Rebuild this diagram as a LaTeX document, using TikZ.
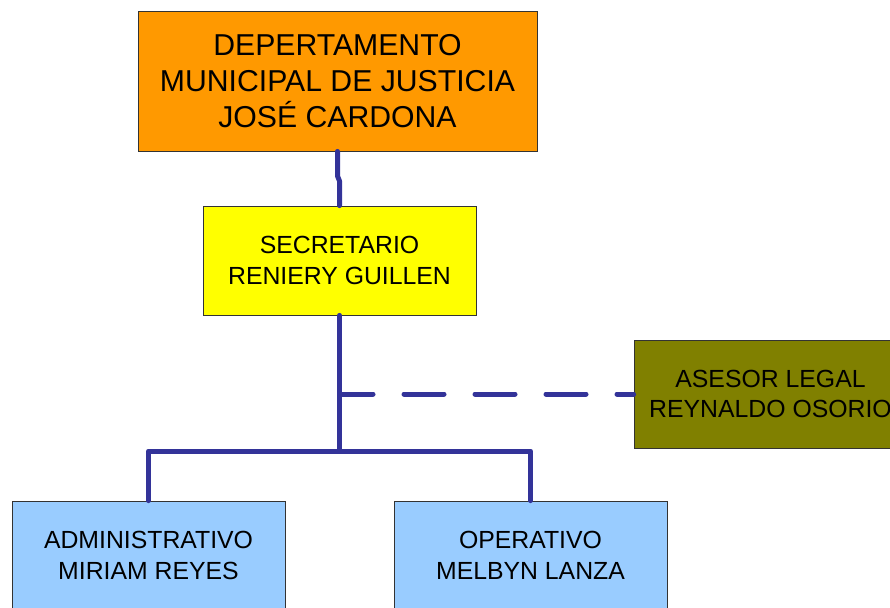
\documentclass[tikz,border=0pt]{standalone}
\usepackage{fontspec}
\setmainfont{Liberation Sans}
\definecolor{lineblue}{HTML}{333399}
\definecolor{orgorange}{HTML}{FF9900}
\definecolor{orgyellow}{HTML}{FFFF00}
\definecolor{orgolive}{HTML}{808000}
\definecolor{orgblue}{HTML}{99CCFF}
\begin{document}
\begin{tikzpicture}[x=1pt,y=-1pt,
  box/.style={draw=black!80,line width=0.8pt,rectangle,align=center,inner sep=0pt,
    minimum width=273pt,minimum height=109pt,font=\fontsize{24.8}{30.5}\selectfont},
  link/.style={draw=lineblue,line width=5pt,line cap=round,line join=round}]
\useasboundingbox (0,0) rectangle (890,607);
\clip (0,0) rectangle (890,607);
\node[box,fill=orgorange,minimum width=399pt,minimum height=140pt,
  font=\fontsize{30.2}{36}\selectfont] (top) at (337.5,81)
  {DEPERTAMENTO\\MUNICIPAL DE JUSTICIA\\JOSÉ CARDONA};
\node[box,fill=orgyellow] (sec) at (339.5,260.5) {SECRETARIO\\RENIERY GUILLEN};
\node[box,fill=orgolive,minimum height=108pt] (ase) at (770.5,394) {ASESOR LEGAL\\REYNALDO OSORIO};
\node[box,fill=orgblue] (adm) at (148.5,555.5) {ADMINISTRATIVO\\MIRIAM REYES};
\node[box,fill=orgblue] (ope) at (530.5,555.5) {OPERATIVO\\MELBYN LANZA};
\coordinate (j1) at (337.5,176);
\coordinate (j2) at (339.5,181);
\coordinate (jd) at (339.5,394);
\coordinate (jb) at (339.5,451);
\coordinate (jl) at (148.5,451);
\coordinate (jr) at (530.5,451);
\draw[link] (top.south) -- (j1) -- (j2) -- (sec.north);
\draw[link] (sec.south) -- (jb);
\draw[link] (adm.north) -- (jl) -- (jr) -- (ope.north);
\draw[link,dash pattern=on 40pt off 31pt,dash phase=6.5pt] (jd) -- (ase.west);
\end{tikzpicture}
\end{document}
